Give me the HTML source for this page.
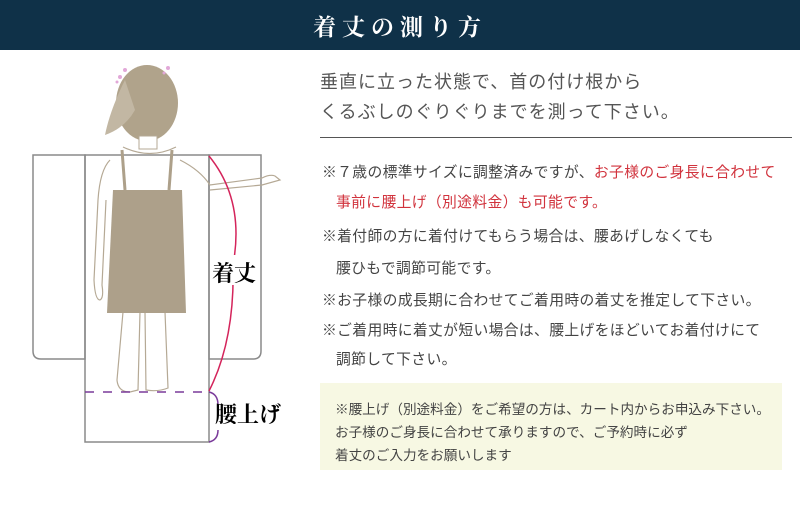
<!DOCTYPE html>
<html><head><meta charset="utf-8"><style>
body{margin:0;width:800px;height:529px;background:#fff;position:relative;overflow:hidden;font-family:"Liberation Sans","Noto Sans CJK JP",sans-serif}
.hd{position:absolute;left:0;top:0;width:800px;height:50px;background:#0f3148}
.tt{position:absolute;left:313px;top:9px;color:#fff;font-family:"Liberation Serif","Noto Serif CJK SC",serif;font-size:23px;letter-spacing:6px;font-weight:bold;white-space:nowrap}
.t{position:absolute;white-space:nowrap}
.i{left:320px;font-size:18px;color:#555;letter-spacing:1px}
.n{font-size:14.8px;color:#444;letter-spacing:.35px}
.r{color:#d1333d}
.bx{position:absolute;left:320px;top:383px;width:462px;height:87px;background:#f7f8e3}
.b{font-size:13.6px;color:#444;left:335px}
</style></head><body>
<div class="hd"></div><div class="tt">着丈の測り方</div>
<div class="t i" style="top:68px">垂直に立った状態で、首の付け根から</div>
<div class="t i" style="top:98px">くるぶしのぐりぐりまでを測って下さい。</div>
<div style="position:absolute;left:320px;top:137px;width:472px;height:1px;background:#555"></div>
<div class="t n" style="left:322px;top:161px">※７歳の標準サイズに調整済みですが、<span class="r">お子様のご身長に合わせて</span></div>
<div class="t n r" style="left:336px;top:191px">事前に腰上げ（別途料金）も可能です。</div>
<div class="t n" style="left:322px;top:225px">※着付師の方に着付けてもらう場合は、腰あげしなくても</div>
<div class="t n" style="left:336px;top:257px">腰ひもで調節可能です。</div>
<div class="t n" style="left:322px;top:289px">※お子様の成長期に合わせてご着用時の着丈を推定して下さい。</div>
<div class="t n" style="left:322px;top:319px">※ご着用時に着丈が短い場合は、腰上げをほどいてお着付けにて</div>
<div class="t n" style="left:336px;top:348px">調節して下さい。</div>
<div class="bx"></div>
<div class="t b" style="top:398px">※腰上げ（別途料金）をご希望の方は、カート内からお申込み下さい。</div>
<div class="t b" style="top:421px">お子様のご身長に合わせて承りますので、ご予約時に必ず</div>
<div class="t b" style="top:444px">着丈のご入力をお願いします</div>
<svg width="800" height="529" style="position:absolute;left:0;top:0">
<g fill="none" stroke="#8a8a8a" stroke-width="1.5">
<path d="M33 155H85V359H41Q33 359 33 351Z"/>
<path d="M209 155H261V351Q261 359 253 359H209Z"/>
<rect x="85" y="155" width="124" height="287"/>
</g>
<g fill="none" stroke="#b5a995" stroke-width="1.2">
<path d="M110 160Q100 170 98 200L94 280Q95 300 100 300Q104 298 102 285L106 200"/>
<path d="M180 160Q200 170 210 185L262 178Q270 174 275 176L280 180L262 185L210 190"/>
<path d="M123 312L117 380Q118 392 130 392L138 390L140 312"/>
<path d="M145 312L146 390Q158 392 168 388L165 312"/>
<path d="M123 147Q150 160 176 147"/>
</g>
<path d="M113 190H182L186 313H107Z" fill="#ada08a"/>
<path d="M122 150L125 190M172 150L169 190" stroke="#ada08a" stroke-width="3"/>
<ellipse cx="147" cy="103" rx="31" ry="38" fill="#b0a38b"/>
<path d="M125 80Q110 110 105 135Q125 128 135 110Z" fill="#c2b7a3"/>
<rect x="139" y="136" width="18" height="13" fill="#fff" stroke="#b5a995"/>
<g fill="#e2a8d8"><circle cx="120" cy="77" r="2"/><circle cx="125" cy="70" r="2"/><circle cx="117" cy="82" r="1.5"/><circle cx="168" cy="68" r="2"/><circle cx="164" cy="73" r="1.5"/></g>
<path d="M209 156Q245 200 233 265Q235 340 209 391" fill="none" stroke="#d4245b" stroke-width="1.5"/>
<path d="M85 392H209" stroke="#7a3a9a" stroke-width="1.5" stroke-dasharray="9 9"/>
<path d="M209 392Q218 394 218 405M218 430Q218 440 209 442" fill="none" stroke="#7a3a9a" stroke-width="1.5"/>
<rect x="210" y="255" width="50" height="30" fill="#fff"/>
<text x="212" y="281" font-family="Liberation Serif,Noto Serif CJK SC,serif" font-weight="bold" font-size="22">着丈</text>
<text x="215" y="422" font-family="Liberation Serif,Noto Serif CJK SC,serif" font-weight="bold" font-size="22">腰上げ</text>
</svg>
</body></html>
